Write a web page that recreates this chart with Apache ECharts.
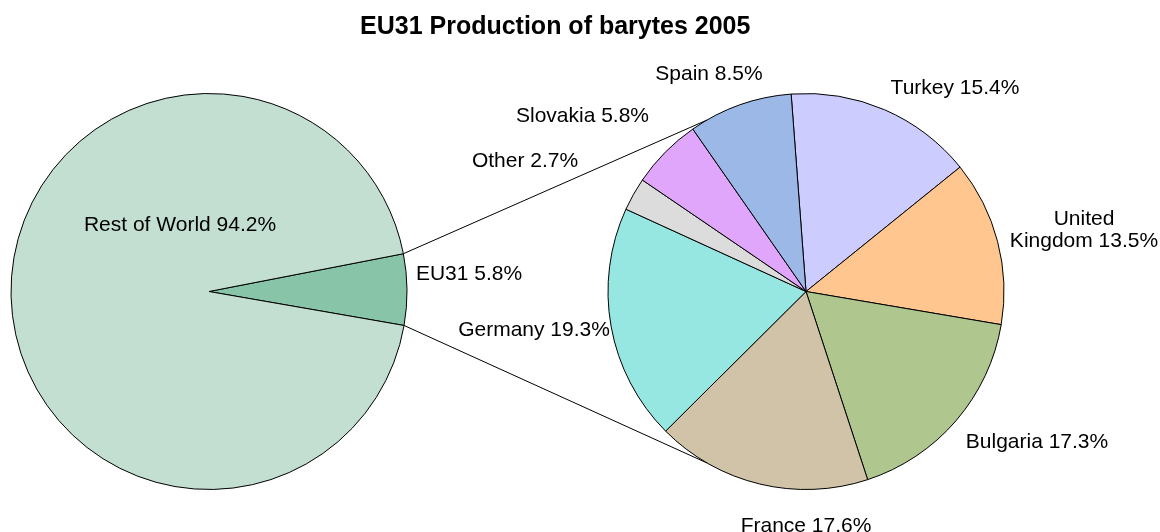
<!DOCTYPE html>
<html>
<head>
<meta charset="utf-8">
<title>EU31 Production of barytes 2005</title>
<script src="https://cdn.jsdelivr.net/npm/echarts@6/dist/echarts.min.js"></script>
<style>
  html, body { margin: 0; padding: 0; background: #fff; }
  #chart { width: 1160px; height: 532px; }
</style>
</head>
<body>
<div id="chart"></div>
<script>
// world split (left pie)
const worldNames = ['EU31', 'Rest of World'];
const worldValues = [5.8, 94.2];
const worldColors = ['#88c4a8', '#c2dfd2'];

// EU31 breakdown (right pie), clockwise from the top
const euNames = ['Turkey', 'United Kingdom', 'Bulgaria', 'France', 'Germany', 'Other', 'Slovakia', 'Spain'];
const euValues = [15.4, 13.5, 17.3, 17.6, 19.3, 2.7, 5.8, 8.5];
const euColors = ['#ccccff', '#ffc78f', '#afc68e', '#d0c3a7', '#96e6e2', '#dcdcdc', '#e0a6fc', '#9cb8e6'];

// layout
const worldCenter = [209, 291.5];
const euCenter = [806, 291.5];
const pieRadius = 198;
const worldStart = 11;      // EU31 slice sits around 3 o'clock
const euStart = 94.3;       // Turkey starts just left of 12 o'clock
const connectorAngle = 30;  // where the connectors meet the right pie, deg from top

// label offsets from each pie centre (px)
const worldLabelOffsets = [[260, -17], [-29, -66]];
const euLabelOffsets = [
  [149, -203.5], [278, -61.5], [231, 151], [0, 234.5],
  [-272, 39], [-281, -130], [-223.5, -175], [-97, -217]
];

const font = 'Arial, "Liberation Sans", sans-serif';

const toData = (names, values, colors) => names.map((n, i) => ({
  name: n,
  value: values[i],
  itemStyle: { color: colors[i] }
}));

const pointOn = (c, deg) => {
  const a = deg * Math.PI / 180;
  return [c[0] + pieRadius * Math.cos(a), c[1] - pieRadius * Math.sin(a)];
};

// connectors: from the EU31 slice corners to the right pie
const worldTotal = worldValues.reduce((s, v) => s + v, 0);
const euSweep = 360 * worldValues[0] / worldTotal;
const fromTop = pointOn(worldCenter, worldStart);
const fromBottom = pointOn(worldCenter, worldStart - euSweep);
const toTop = pointOn(euCenter, 90 + connectorAngle);
const toBottom = pointOn(euCenter, 270 - connectorAngle);

const connector = (p, q) => ({
  type: 'line',
  z: 0,
  shape: { x1: p[0], y1: p[1], x2: q[0], y2: q[1] },
  style: { stroke: '#000', lineWidth: 1 }
});

const pieBase = (center, start, offsets) => ({
  type: 'pie',
  center: center,
  radius: pieRadius,
  startAngle: start,
  clockwise: true,
  avoidLabelOverlap: false,
  animation: false,
  itemStyle: { borderColor: '#000', borderWidth: 1 },
  emphasis: { disabled: true },
  labelLine: { show: false },
  label: {
    show: true,
    position: 'outside',
    fontFamily: font,
    fontSize: 21,
    lineHeight: 22,
    color: '#000',
    align: 'center',
    formatter: p => (p.name + ' ' + p.value + '%').replace(' Kingdom', '\nKingdom')
  },
  labelLayout: params => {
    const off = offsets[params.dataIndex];
    return {
      x: center[0] + off[0],
      y: center[1] + off[1],
      align: 'center',
      verticalAlign: 'middle'
    };
  }
});

const chart = echarts.init(document.getElementById('chart'));

chart.setOption({
  backgroundColor: '#fff',
  animation: false,
  title: {
    text: 'EU31 Production of barytes 2005',
    left: 355,
    top: 10,
    textStyle: { fontFamily: font, fontSize: 25, fontWeight: 'bold', color: '#000' }
  },
  graphic: [connector(fromTop, toTop), connector(fromBottom, toBottom)],
  series: [
    Object.assign(pieBase(worldCenter, worldStart, worldLabelOffsets), {
      data: toData(worldNames, worldValues, worldColors)
    }),
    Object.assign(pieBase(euCenter, euStart, euLabelOffsets), {
      data: toData(euNames, euValues, euColors)
    })
  ]
});

window.addEventListener('resize', () => chart.resize());
</script>
</body>
</html>
